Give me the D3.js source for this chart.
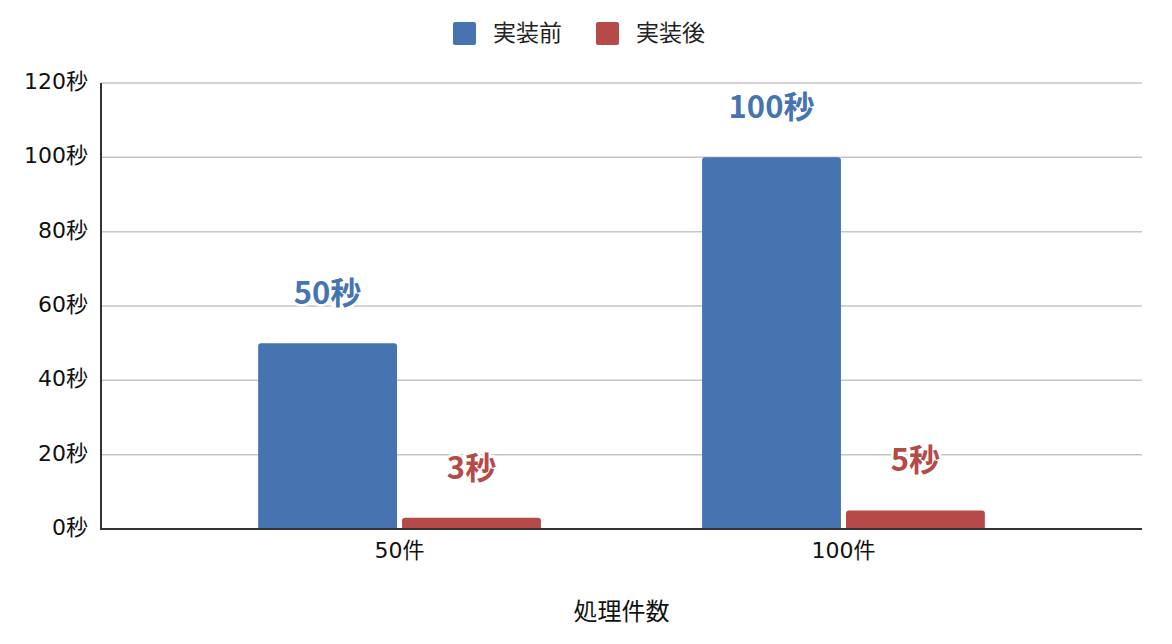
<!DOCTYPE html>
<html>
<head>
<meta charset="utf-8">
<script src="https://cdn.jsdelivr.net/npm/d3@7"></script>
<style>
  body { margin: 0; background: #fff; }
  text { font-family: "Noto Sans CJK JP", "Noto Sans", sans-serif; }
  .tick-label { font-family: "DejaVu Sans", "Noto Sans CJK JP", sans-serif; }
</style>
</head>
<body>
<div id="chart-area"></div>
<script>
// data
var categories = ['50件', '100件'];
var seriesNames = ['実装前', '実装後'];
var before = [50, 100];
var after = [3, 5];
var yTicks = [0, 20, 40, 60, 80, 100, 120];
var colors = ['#4674b0', '#b54a48'];

var W = 1172, H = 644;
var plot = { left: 101, right: 1142, top: 83, bottom: 529 };

var svg = d3.select('#chart-area')
    .append('svg')
        .attr('width', W)
        .attr('height', H);

var values = [before, after];

// scales
var x = d3.scaleBand()
    .domain(categories)
    .range([plot.left, plot.right])
    .paddingInner(0.363)
    .paddingOuter(0.354);

var xSub = d3.scaleBand()
    .domain(seriesNames)
    .range([0, x.bandwidth()])
    .paddingInner(0.035);

var y = d3.scaleLinear()
    .domain([0, 120])
    .range([plot.bottom, plot.top]);

// gridlines
svg.append('g')
    .selectAll('line')
    .data(yTicks.slice(1))
    .enter()
    .append('line')
        .attr('x1', plot.left)
        .attr('x2', plot.right)
        .attr('y1', (d) => { return y(d) })
        .attr('y2', (d) => { return y(d) })
        .attr('stroke', '#c6c6c6')
        .attr('stroke-width', 1.5);

// y tick labels
svg.append('g')
    .selectAll('text')
    .data(yTicks)
    .enter()
    .append('text')
        .attr('class', 'tick-label')
        .attr('x', plot.left - 13)
        .attr('y', (d) => { return y(d) })
        .attr('dy', '0.28em')
        .attr('text-anchor', 'end')
        .attr('font-size', '22px')
        .attr('fill', '#111')
        .text((d) => { return d + '秒' });

// bars
seriesNames.forEach((s, i) => {
    svg.append('g')
        .selectAll('path')
        .data(categories)
        .enter()
        .append('path')
            .attr('fill', colors[i])
            .attr('d', (c, j) => {
                var x0 = x(c) + xSub(s), w = xSub.bandwidth();
                var y0 = y(values[i][j]), r = 3;
                return 'M' + x0 + ',' + plot.bottom +
                    'V' + (y0 + r) +
                    'Q' + x0 + ',' + y0 + ' ' + (x0 + r) + ',' + y0 +
                    'H' + (x0 + w - r) +
                    'Q' + (x0 + w) + ',' + y0 + ' ' + (x0 + w) + ',' + (y0 + r) +
                    'V' + plot.bottom + 'Z';
            });

    // value labels
    svg.append('g')
        .selectAll('text')
        .data(categories)
        .enter()
        .append('text')
            .attr('x', (c) => { return x(c) + xSub(s) + xSub.bandwidth() / 2 })
            .attr('y', (c, j) => { return y(values[i][j]) - 39 })
            .attr('text-anchor', 'middle')
            .attr('font-size', '31px')
            .attr('font-weight', 'bold')
            .attr('fill', colors[i])
            .attr('stroke', '#fff')
            .attr('stroke-width', 5)
            .attr('paint-order', 'stroke')
            .text((c, j) => { return values[i][j] + '秒' });
});

// axes
svg.append('line')
    .attr('x1', plot.left).attr('x2', plot.left)
    .attr('y1', plot.top).attr('y2', plot.bottom + 1)
    .attr('stroke', '#333')
    .attr('stroke-width', 2);
svg.append('line')
    .attr('x1', plot.left - 1).attr('x2', plot.right)
    .attr('y1', plot.bottom).attr('y2', plot.bottom)
    .attr('stroke', '#333')
    .attr('stroke-width', 2);

// x tick labels
svg.append('g')
    .selectAll('text')
    .data(categories)
    .enter()
    .append('text')
        .attr('class', 'tick-label')
        .attr('x', (c) => { return x(c) + x.bandwidth() / 2 })
        .attr('y', plot.bottom + 29)
        .attr('text-anchor', 'middle')
        .attr('font-size', '22px')
        .attr('fill', '#111')
        .text((c) => { return c });

// x axis title
svg.append('text')
    .attr('x', (plot.left + plot.right) / 2)
    .attr('y', 620)
    .attr('text-anchor', 'middle')
    .attr('font-size', '24px')
    .attr('fill', '#111')
    .text('処理件数');

// legend
var legendX = [453, 596];
seriesNames.forEach((s, i) => {
    svg.append('rect')
        .attr('x', legendX[i])
        .attr('y', 22)
        .attr('width', 23)
        .attr('height', 23)
        .attr('rx', 2)
        .attr('fill', colors[i]);
    svg.append('text')
        .attr('x', legendX[i] + 40)
        .attr('y', 33)
        .attr('dy', '0.36em')
        .attr('font-size', '23px')
        .attr('fill', '#222')
        .text(s);
});
</script>
</body>
</html>
